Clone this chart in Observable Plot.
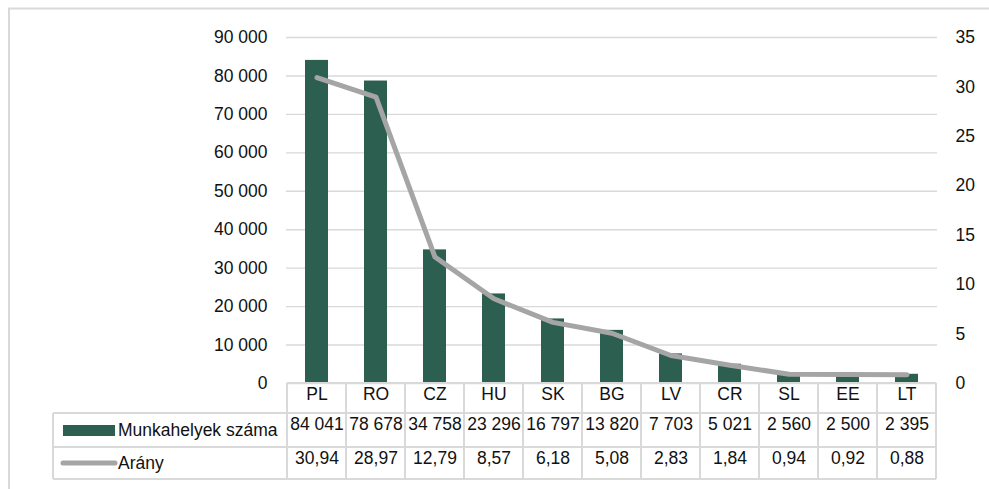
<!DOCTYPE html>
<html><head><meta charset="utf-8">
<script src="https://cdn.jsdelivr.net/npm/d3@7"></script>
<script src="https://cdn.jsdelivr.net/npm/@observablehq/plot@0.6"></script>
<style>
body{margin:0;background:#fff;}
#chart svg{display:block;}
</style>
</head><body><div id="chart"></div>
<script>
const categories = ["PL","RO","CZ","HU","SK","BG","LV","CR","SL","EE","LT"];
const jobs = [84041,78678,34758,23296,16797,13820,7703,5021,2560,2500,2395];
const ratio = [30.94,28.97,12.79,8.57,6.18,5.08,2.83,1.84,0.94,0.92,0.88];
const leftTicks = [0,10000,20000,30000,40000,50000,60000,70000,80000,90000];
const rightTicks = [0,5,10,15,20,25,30,35];
const seriesNames = ["Munkahelyek száma","Arány"];

const FONT = "'Liberation Sans Narrow','Arial Narrow','Liberation Sans',Arial,sans-serif";
const FS = 17.5;
const GREEN = "#2D5F50", GRAY = "#A5A5A5", GRID = "#D9D9D9", INK = "#111";
const loc = d3.formatLocale({decimal: ",", thousands: " ", grouping: [3], currency: ["", ""]});
const fmtInt = loc.format(",d");
const fmtDec = loc.format(".2f");
const yMax = 90000, rMax = 35, k = yMax / rMax;

const data = categories.map((c, i) => ({cat: c, jobs: jobs[i], ratio: ratio[i], r: ratio[i] * k}));

const W = 989, H = 489;
const chart = Plot.plot({
  width: W, height: H,
  marginLeft: 286, marginRight: 52, marginTop: 37, marginBottom: 106,
  style: {fontFamily: FONT, fontSize: FS + "px", color: INK, background: "#fff"},
  x: {domain: categories, paddingInner: 0.61, paddingOuter: 0.305, axis: null},
  y: {domain: [0, yMax], axis: null},
  marks: [
    Plot.ruleY(leftTicks, {stroke: GRID, strokeWidth: 1.4}),
    Plot.barY(data, {x: "cat", y: "jobs", fill: GREEN}),
    Plot.line(data, {x: "cat", y: "r", stroke: GRAY, strokeWidth: 5, strokeLinecap: "round", strokeLinejoin: "round"}),
    Plot.axisY(leftTicks, {tickSize: 0, tickPadding: 19, tickFormat: fmtInt, label: null, fill: INK}),
    Plot.text(rightTicks, {y: d => d * k, text: d => String(d), frameAnchor: "right", dx: 18, textAnchor: "start", fill: INK}),
    Plot.text(data, {x: "cat", text: "cat", frameAnchor: "bottom", dy: 16, fill: INK}),
    Plot.text(data, {x: "cat", text: d => fmtInt(d.jobs), frameAnchor: "bottom", dy: 46, fill: INK}),
    Plot.text(data, {x: "cat", text: d => fmtDec(d.ratio), frameAnchor: "bottom", dy: 80, fill: INK})
  ]
});
document.getElementById("chart").appendChild(chart);

// table grid, legend keys and chart border, placed from Plot's own scales
const sx = chart.scale("x"), sy = chart.scale("y");
const gap = (sx.step - sx.bandwidth) / 2;
const bounds = categories.map(c => sx.apply(c) - gap);
bounds.push(sx.apply(categories[categories.length - 1]) + sx.bandwidth + gap);
const y0 = sy.apply(0);
const rowY = [y0, y0 + 30, y0 + 64, y0 + 96];
const leftX = 53;
const svg = d3.select(chart);
const g = svg.append("g").attr("stroke", GRID).attr("stroke-width", 2).attr("fill", "none");
g.append("line").attr("x1", bounds[0]).attr("x2", bounds[bounds.length - 1]).attr("y1", rowY[0]).attr("y2", rowY[0]);
for (let i = 1; i < rowY.length; i++) {
  g.append("line").attr("x1", leftX).attr("x2", bounds[bounds.length - 1]).attr("y1", rowY[i]).attr("y2", rowY[i]);
}
bounds.forEach(b => g.append("line").attr("x1", b).attr("x2", b).attr("y1", rowY[0]).attr("y2", rowY[3]));
g.append("line").attr("x1", leftX).attr("x2", leftX).attr("y1", rowY[1]).attr("y2", rowY[3]);
const lg = svg.append("g");
lg.append("rect").attr("x", leftX + 10).attr("y", rowY[1] + 12).attr("width", 52).attr("height", 11).attr("fill", GREEN);
lg.append("line").attr("x1", leftX + 10).attr("x2", leftX + 62).attr("y1", (rowY[2] + rowY[3]) / 2).attr("y2", (rowY[2] + rowY[3]) / 2)
  .attr("stroke", GRAY).attr("stroke-width", 5).attr("stroke-linecap", "round");
seriesNames.forEach((n, i) => {
  lg.append("text").attr("x", leftX + 65).attr("y", (rowY[i + 1] + rowY[i + 2]) / 2).attr("dy", "0.32em")
    .attr("text-anchor", "start").attr("fill", INK).attr("font-family", FONT).attr("font-size", FS).text(n);
});
svg.append("path").attr("d", `M9,${H}V8.5H${W}`).attr("stroke", GRID).attr("stroke-width", 2).attr("fill", "none");
</script>
</body></html>
